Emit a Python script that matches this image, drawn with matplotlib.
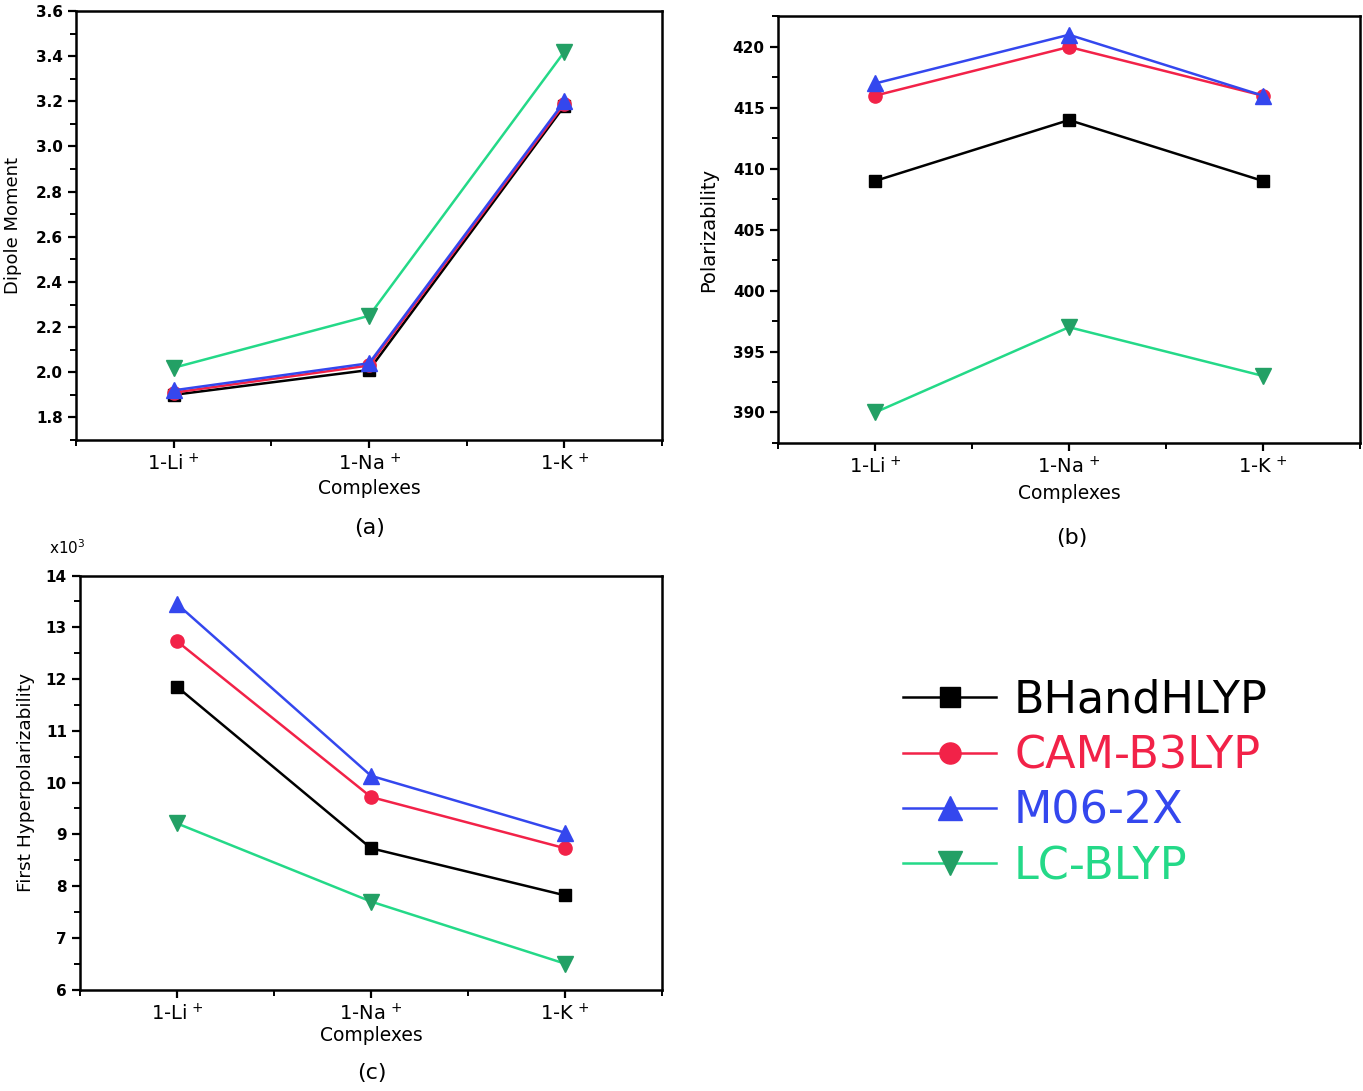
import numpy as np
import matplotlib
matplotlib.use("Agg")
from matplotlib import pyplot as plt
from matplotlib.ticker import MultipleLocator

plt.rcParams['font.family'] = ['DejaVu Sans']
plt.rcParams['mathtext.fontset'] = 'dejavusans'

complexes = ['1-Li$^{\\,+}$', '1-Na$^{\\,+}$', '1-K$^{\\,+}$']
methods = ['BHandHLYP', 'CAM-B3LYP', 'M06-2X', 'LC-BLYP']

dipole = {
    'BHandHLYP': [1.90, 2.01, 3.18],
    'CAM-B3LYP': [1.91, 2.03, 3.19],
    'M06-2X': [1.92, 2.04, 3.20],
    'LC-BLYP': [2.02, 2.25, 3.42],
}
polar = {
    'BHandHLYP': [409, 414, 409],
    'CAM-B3LYP': [416, 420, 416],
    'M06-2X': [417, 421, 416],
    'LC-BLYP': [390, 397, 393],
}
hyper = {  # x10^3
    'BHandHLYP': [11.85, 8.73, 7.82],
    'CAM-B3LYP': [12.73, 9.72, 8.73],
    'M06-2X': [13.45, 10.13, 9.03],
    'LC-BLYP': [9.21, 7.70, 6.50],
}

line_col = {'BHandHLYP': '#000000', 'CAM-B3LYP': '#f22248',
            'M06-2X': '#3447ee', 'LC-BLYP': '#24d988'}
face_col = {'BHandHLYP': '#000000', 'CAM-B3LYP': '#f22248',
            'M06-2X': '#3447ee', 'LC-BLYP': '#23a065'}
markers = {'BHandHLYP': 's', 'CAM-B3LYP': 'o', 'M06-2X': '^', 'LC-BLYP': 'v'}
msize = {'BHandHLYP': 9, 'CAM-B3LYP': 9.5, 'M06-2X': 11, 'LC-BLYP': 11}

fig = plt.figure(figsize=(13.63, 10.91), dpi=100)
ax_a = fig.add_axes([0.0558, 0.5967, 0.430, 0.3932])
ax_b = fig.add_axes([0.5708, 0.5940, 0.427, 0.3909])
ax_c = fig.add_axes([0.0587, 0.0930, 0.427, 0.3795])

x = np.arange(1, len(complexes) + 1)


def draw(ax, data, ylim, major, minor, ylabel, ylab_size, ylab_x, xlab_y, fmt):
    for m in methods:
        ax.plot(x, data[m], color=line_col[m], lw=1.8, marker=markers[m],
                ms=msize[m], mfc=face_col[m], mec=face_col[m], label=m)
    ax.set_xlim(0.5, 3.5)
    ax.set_ylim(*ylim)
    ax.set_xticks(x)
    ax.set_xticklabels(complexes, fontsize=14)
    ax.xaxis.set_minor_locator(MultipleLocator(0.5))
    ax.yaxis.set_major_locator(MultipleLocator(major))
    ax.yaxis.set_minor_locator(MultipleLocator(minor))
    ax.yaxis.set_major_formatter(fmt)
    ax.tick_params(which='major', direction='out', length=6, width=1.6)
    ax.tick_params(which='minor', direction='out', length=4, width=1.4)
    ax.tick_params(axis='y', labelsize=11)
    ax.tick_params(top=False, right=False)
    for lab in ax.get_yticklabels():
        lab.set_fontweight('bold')
    for s in ax.spines.values():
        s.set_linewidth(1.8)
    ax.set_ylabel(ylabel, fontsize=ylab_size)
    ax.yaxis.set_label_coords(ylab_x, 0.5)
    ax.set_xlabel('Complexes', fontsize=13.5)
    ax.xaxis.set_label_coords(0.5, xlab_y)


draw(ax_a, dipole, (1.7, 3.6), 0.2, 0.1, 'Dipole Moment', 13, -0.092,
     -0.092, '{x:.1f}')
draw(ax_b, polar, (387.5, 422.5), 5, 2.5, 'Polarizability', 14, -0.103,
     -0.096, '{x:.0f}')
draw(ax_c, hyper, (6, 14), 1, 0.5, 'First Hyperpolarizability', 13.3, -0.077,
     -0.088, '{x:.0f}')

fig.text(0.036, 0.498, 'x10$^{3}$', fontsize=11, ha='left', va='center')
fig.text(0.2715, 0.516, '(a)', fontsize=16, ha='center', va='center')
fig.text(0.7865, 0.507, '(b)', fontsize=16, ha='center', va='center')
fig.text(0.273, 0.0165, '(c)', fontsize=16, ha='center', va='center')

handles, labels = ax_c.get_legend_handles_labels()
fig.legend(handles, labels, loc='center left', bbox_to_anchor=(0.6625, 0.282),
           frameon=False, fontsize=32, handlelength=2.1, handletextpad=0.4,
           labelspacing=0.28, borderpad=0, borderaxespad=0, markerscale=1.6,
           labelcolor='linecolor')

fig.savefig('out.png', dpi=100)
